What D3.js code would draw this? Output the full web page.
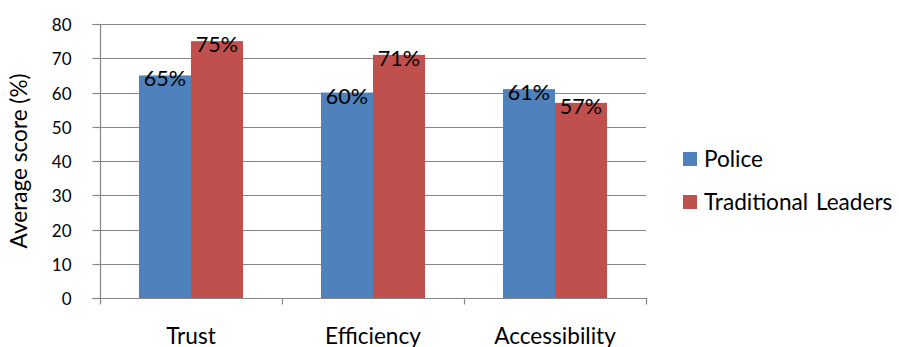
<!DOCTYPE html>
<html>
<head>
<meta charset="utf-8">
<script src="https://cdn.jsdelivr.net/npm/d3@7/dist/d3.min.js"></script>
<style>
  html, body { margin: 0; padding: 0; background: #fff; }
  svg { display: block; }
  text { font-family: Lato, "Open Sans", sans-serif; fill: #000; }
</style>
</head>
<body>
<svg id="chart" width="899" height="347"></svg>
<script>
const categories = ["Trust", "Efficiency", "Accessibility"];
const seriesNames = ["Police", "Traditional Leaders"];
const police = [65, 60, 61];
const traditionalLeaders = [75, 71, 57];
const yTicks = [0, 10, 20, 30, 40, 50, 60, 70, 80];
const colors = ["#4F81BD", "#C0504D"];
const yTitle = "Average score (%)";

const seriesValues = [police, traditionalLeaders];

const svg = d3.select("#chart");
const plotL = 100, plotR = 646, plotT = 24, plotB = 298.3;

const y = d3.scaleLinear().domain([0, 80]).range([plotB, plotT]);
const x0 = d3.scaleBand().domain(categories).range([plotL, plotR]).paddingInner(0).paddingOuter(0);
const x1 = d3.scaleBand().domain(seriesNames).range([0, x0.bandwidth()]).paddingInner(0).paddingOuter(0.75);

const gridColor = "#868686";
const bigFont = "22.6px";

// gridlines
svg.append("g").selectAll("line").data(yTicks.filter(t => t > 0)).join("line")
  .attr("x1", plotL).attr("x2", plotR)
  .attr("y1", d => Math.round(y(d)) + 0.5).attr("y2", d => Math.round(y(d)) + 0.5)
  .attr("stroke", gridColor).attr("stroke-width", 1.2);

// bars
const groups = svg.append("g").selectAll("g").data(categories).join("g")
  .attr("transform", c => `translate(${x0(c)},0)`);
groups.selectAll("rect").data((c, i) => seriesNames.map((s, j) => ({ s, j, v: seriesValues[j][i] })))
  .join("rect")
  .attr("x", d => x1(d.s)).attr("width", x1.bandwidth())
  .attr("y", d => y(d.v)).attr("height", d => y(0) - y(d.v))
  .attr("fill", d => colors[d.j]);

// data labels
groups.selectAll("text").data((c, i) => seriesNames.map((s, j) => ({ s, j, v: seriesValues[j][i] })))
  .join("text")
  .attr("x", d => x1(d.s) + x1.bandwidth() / 2)
  .attr("y", d => y(d.v) + 11)
  .attr("text-anchor", "middle")
  .style("font-size", "21.6px")
  .text(d => d.v + "%");

// y axis
const yAxis = d3.axisLeft(y).tickValues(yTicks).tickSize(8).tickPadding(21);
const gy = svg.append("g").attr("transform", `translate(${plotL + 0.5},0)`).call(yAxis);
gy.select(".domain").attr("stroke", gridColor).attr("stroke-width", 1.2).attr("d", `M-8,${Math.round(plotT)+0.5}H0V${Math.round(plotB)+0.5}H-8`);
gy.selectAll(".tick line").attr("stroke", gridColor).attr("stroke-width", 1.2);
gy.selectAll(".tick").attr("transform", d => `translate(0,${Math.round(y(d)) + 0.5})`);
gy.selectAll(".tick text").style("font-size", "17px").style("font-family", "Lato, sans-serif").attr("fill", "#000").attr("dy", "0.36em");

// x axis
const xTickPos = categories.map(c => x0(c)).concat([plotR]);
const gx = svg.append("g");
gx.append("line").attr("x1", plotL).attr("x2", plotR)
  .attr("y1", Math.round(plotB) + 0.5).attr("y2", Math.round(plotB) + 0.5)
  .attr("stroke", gridColor).attr("stroke-width", 1.2);
gx.selectAll("line.tk").data(xTickPos).join("line").attr("class", "tk")
  .attr("x1", d => Math.round(d) + 0.5).attr("x2", d => Math.round(d) + 0.5)
  .attr("y1", Math.round(plotB)).attr("y2", Math.round(plotB) + 6.5)
  .attr("stroke", gridColor).attr("stroke-width", 1.2);
gx.selectAll("text").data(categories).join("text")
  .attr("x", c => x0(c) + x0.bandwidth() / 2)
  .attr("y", 343.5)
  .attr("text-anchor", "middle")
  .style("font-size", bigFont)
  .text(c => c);

// y title
svg.append("text")
  .attr("transform", "translate(27,161) rotate(-90)")
  .attr("text-anchor", "middle")
  .style("font-size", bigFont)
  .text(yTitle);

// legend
const legend = svg.append("g").selectAll("g").data(seriesNames).join("g")
  .attr("transform", (d, i) => `translate(683,${152 + i * 43})`);
legend.append("rect").attr("width", 14).attr("height", 14).attr("fill", (d, i) => colors[i]);
legend.append("text").attr("x", 21).attr("y", 14.7).style("font-size", bigFont).style("word-spacing", "2px").text(d => d);
</script>
</body>
</html>
